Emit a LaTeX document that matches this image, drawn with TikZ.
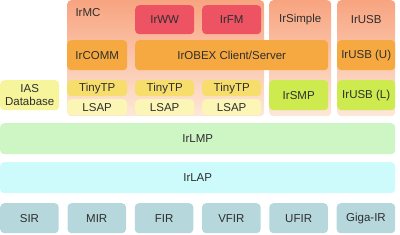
\documentclass[tikz,border=0pt]{standalone}
\usepackage{fontspec}
\setmainfont{Liberation Sans}
\usepackage{xcolor}
\definecolor{irpeachtop}{HTML}{F8A480}
\definecolor{irpeachbot}{HTML}{FDE8D8}
\definecolor{irred}{HTML}{EE5363}
\definecolor{irorange}{HTML}{F6A940}
\definecolor{iryellow}{HTML}{F7DD6C}
\definecolor{irpaleyellow}{HTML}{FBF6B6}
\definecolor{irias}{HTML}{F6F59C}
\definecolor{irlime}{HTML}{CDEA4E}
\definecolor{irgreen}{HTML}{CEF5C4}
\definecolor{ircyan}{HTML}{CDFBFB}
\definecolor{irteal}{HTML}{B6D7DC}
\definecolor{irtext}{HTML}{2E2E2E}
\usepackage{tikz}

\begin{document}
\begin{tikzpicture}[
  x=1pt, y=-1pt,
  layer/.style={rounded corners=4pt, inner sep=0pt, anchor=north west,
                text=irtext, align=center,
                font=\fontsize{11.5}{12.5}\selectfont},
  group/.style={layer, top color=irpeachtop, bottom color=irpeachbot,
                minimum height=116pt},
  app/.style={layer, fill=irred, minimum width=59pt, minimum height=29pt},
  proto/.style={layer, fill=irorange, minimum height=30pt},
  tiny/.style={layer, fill=iryellow, minimum height=16pt},
  lsap/.style={layer, fill=irpaleyellow, minimum height=16pt},
  lower/.style={layer, fill=irlime, minimum height=30pt},
  phy/.style={layer, fill=irteal, minimum width=58.5pt, minimum height=30pt}
]
  \useasboundingbox (0,0) rectangle (400,234);

  % upper groups
  \node[group, minimum width=197pt,
        label={[anchor=center, xshift=21pt, yshift=-13pt, text=irtext,
                font=\fontsize{11.5}{12.5}\selectfont]north west:IrMC}]
        (irmc) at (67,0) {};
  \node[group, minimum width=62pt,
        label={[anchor=center, yshift=-20pt, text=irtext,
                font=\fontsize{11.5}{12.5}\selectfont]north:IrSimple}]
        (irsimple) at (269,0) {};
  \node[group, minimum width=58pt,
        label={[anchor=center, yshift=-20pt, text=irtext,
                font=\fontsize{11.5}{12.5}\selectfont]north:IrUSB}]
        (irusb) at (337,0) {};

  \node[app] (irww) at (135,5) {IrWW};
  \node[app] (irfm) at (202,5) {IrFM};

  \node[proto, minimum width=60pt] (ircomm) at (67,40) {IrCOMM};
  \node[proto, minimum width=193pt] (irobex) at (135,40) {IrOBEX Client/Server};
  \node[proto, minimum width=58pt] (irusbu) at (337,40) {IrUSB (U)};

  \node[layer, fill=irias, minimum width=59pt, minimum height=30pt]
        (ias) at (0,80) {IAS\\Database};
  \node[tiny, minimum width=60pt] (ttp1) at (67,80) {TinyTP};
  \node[tiny, minimum width=59pt] (ttp2) at (135,80) {TinyTP};
  \node[tiny, minimum width=59pt] (ttp3) at (202,80) {TinyTP};
  \node[lsap, minimum width=60pt] (lsap1) at (67,99) {LSAP};
  \node[lsap, minimum width=59pt] (lsap2) at (135,99) {LSAP};
  \node[lsap, minimum width=59pt] (lsap3) at (202,99) {LSAP};
  \node[lower, minimum width=59pt] (irsmp) at (269,80) {IrSMP};
  \node[lower, minimum width=58pt] (irusbl) at (337,80) {IrUSB (L)};

  % link layers
  \node[layer, fill=irgreen, minimum width=395pt, minimum height=31pt]
        (irlmp) at (0,123) {IrLMP};
  \node[layer, fill=ircyan, minimum width=395pt, minimum height=31pt]
        (irlap) at (0,162) {IrLAP};

  % physical layers
  \foreach \name/\txt [count=\i from 0] in
      {sir/SIR, mir/MIR, fir/FIR, vfir/VFIR, ufir/UFIR, gigair/Giga-IR}
    \node[phy] (\name) at (\i*67.3,203) {\txt};
\end{tikzpicture}
\end{document}
